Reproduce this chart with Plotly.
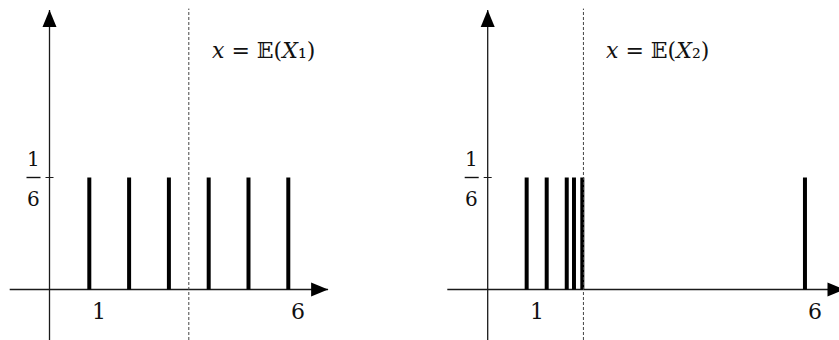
import plotly.graph_objects as go

# ---- data ----
x1_values = [1, 2, 3, 4, 5, 6]
x2_values = [1, 1.36, 1.72, 1.85, 2.0, 6]
prob = [1/6] * 6
means = [3.5, 2.02]
tick_values = [[1, 6], [1, 6]]
tick_labels = [["1", "6"], ["1", "6"]]
mean_labels = ["<i>x</i> = 𝔼(<i>X</i>₁)", "<i>x</i> = 𝔼(<i>X</i>₂)"]
y_tick = 1/6

# ---- layout geometry (axes ranges chosen to place panels) ----
W, H = 839, 340
FONT = "DejaVu Serif"
AX_COLOR = "#1a1a1a"
TXT = "#111111"

panels = [
    dict(xa="x", ya="y", values=x1_values, xrange=[-1.2437, 9.2839], yaxis_x=0.0,
         xstart=-1.0, xtip=7.0),
    dict(xa="x2", ya="y", values=x2_values, xrange=[-0.9163, 6.6116], yaxis_x=0.30,
         xstart=-0.426, xtip=6.71),
]
yrange = [-0.07515, 0.43080]
ytip = 0.416

fig = go.Figure()
shapes = []
annotations = []

for i, p in enumerate(panels):
    xs, ys = [], []
    for v, pr in zip(p["values"], prob):
        xs += [v, v, None]
        ys += [0, pr, None]
    fig.add_trace(go.Scatter(x=xs, y=ys, mode="lines", xaxis=p["xa"], yaxis=p["ya"],
                             line=dict(color="black", width=4), hoverinfo="skip",
                             showlegend=False))
    xref, yref = p["xa"], p["ya"]
    # x axis line
    shapes.append(dict(type="line", xref=xref, yref=yref, x0=p["xstart"], x1=p["xtip"],
                       y0=0, y1=0, line=dict(color=AX_COLOR, width=1.3), layer="below"))
    # y axis line
    shapes.append(dict(type="line", xref=xref, yref=yref, x0=p["yaxis_x"], x1=p["yaxis_x"],
                       y0=yrange[0], y1=ytip, line=dict(color=AX_COLOR, width=1.3), layer="below"))
    # arrow heads
    shapes.append(dict(type="path", xref=xref, yref=yref, xsizemode="pixel", ysizemode="pixel",
                       xanchor=p["xtip"], yanchor=0, path="M -17,-7 L -17,7 L 0,0 Z",
                       fillcolor="black", line=dict(width=0)))
    shapes.append(dict(type="path", xref=xref, yref=yref, xsizemode="pixel", ysizemode="pixel",
                       xanchor=p["yaxis_x"], yanchor=ytip, path="M -7,-17 L 7,-17 L 0,0 Z",
                       fillcolor="black", line=dict(width=0)))
    # y tick at 1/6
    shapes.append(dict(type="line", xref=xref, yref=yref, xsizemode="pixel", xanchor=p["yaxis_x"],
                       x0=-4, x1=4, y0=y_tick, y1=y_tick, line=dict(color=AX_COLOR, width=1)))
    # fraction bar
    shapes.append(dict(type="line", xref=xref, yref=yref, xsizemode="pixel", xanchor=p["yaxis_x"],
                       x0=-23, x1=-9, y0=y_tick, y1=y_tick, line=dict(color=TXT, width=1.4)))
    annotations.append(dict(x=p["yaxis_x"], y=y_tick, xref=xref, yref=yref, text="1",
                            showarrow=False, xshift=-16, yshift=19,
                            font=dict(family=FONT, size=20, color=TXT)))
    annotations.append(dict(x=p["yaxis_x"], y=y_tick, xref=xref, yref=yref, text="6",
                            showarrow=False, xshift=-16, yshift=-21,
                            font=dict(family=FONT, size=20, color=TXT)))
    # dashed mean line
    shapes.append(dict(type="line", xref=xref, yref=yref, x0=means[i], x1=means[i],
                       y0=yrange[0], y1=ytip + 0.002,
                       line=dict(color="#444", width=1, dash="3px,2px")))
    annotations.append(dict(x=means[i], y=1 - 50 / H, xref=xref, yref="paper",
                            text=mean_labels[i], showarrow=False, xanchor="left",
                            yanchor="middle", xshift=21,
                            font=dict(family=FONT, size=22, color=TXT)))
    # x tick labels
    for tv, tl in zip(tick_values[i], tick_labels[i]):
        annotations.append(dict(x=tv, y=0, xref=xref, yref=yref, text=tl, showarrow=False,
                                xshift=10, yshift=-22,
                                font=dict(family=FONT, size=22, color=TXT)))

fig.update_layout(
    width=W, height=H,
    margin=dict(l=0, r=0, t=0, b=0),
    paper_bgcolor="white", plot_bgcolor="white",
    xaxis=dict(domain=[0, 419 / W], range=panels[0]["xrange"], visible=False),
    xaxis2=dict(domain=[420 / W, 1], range=panels[1]["xrange"], visible=False),
    yaxis=dict(domain=[0, 1], range=yrange, visible=False),
    shapes=shapes, annotations=annotations,
)

fig.write_html("out.html", config={"displayModeBar": False},
               post_script="document.body.style.margin='0';document.body.style.overflow='hidden';")
